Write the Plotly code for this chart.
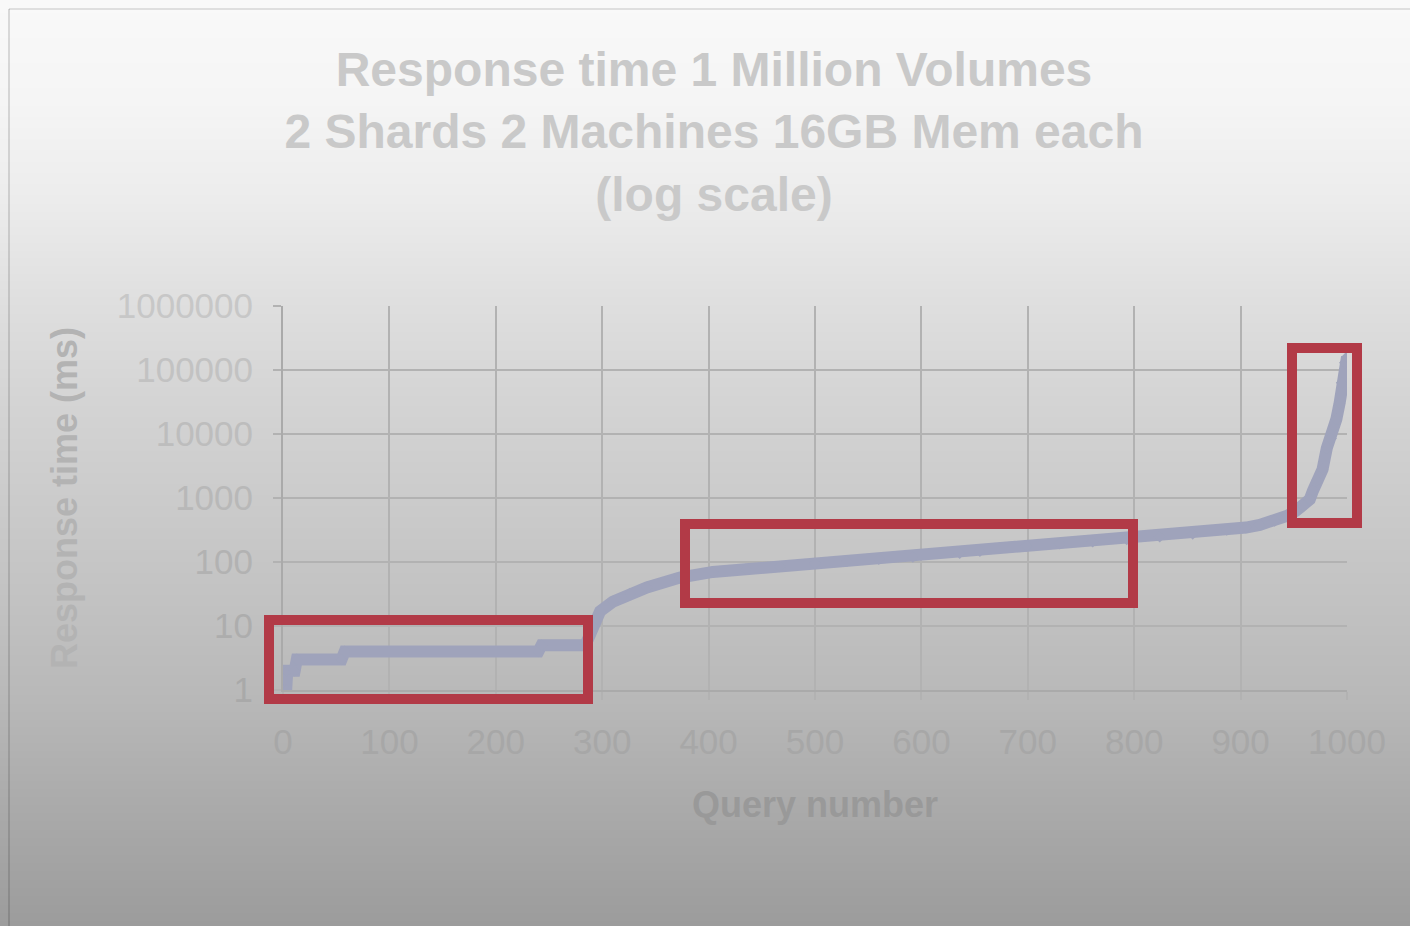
import base64
import struct
import zlib

import plotly.graph_objects as go

# ---- data: sorted response times of 1000 queries (ms) ----
query_number = [0, 3, 4, 11, 13, 55, 58, 240, 243, 284, 288, 291, 298, 310, 326,
                342, 373, 404, 435, 467, 500, 530, 560, 592, 636, 655, 699, 730,
                761, 793, 824, 855, 887, 905, 918, 932, 944, 952, 959, 965, 968,
                972, 977, 981, 985, 988, 990, 993, 995, 998, 1000]
response_ms = [1, 1, 2, 2, 3, 3, 4, 4, 5, 5, 7, 10, 17, 24, 32,
               40, 57, 70, 77, 85, 94, 103, 111, 120, 138, 148, 178, 194,
               208, 226, 248, 276, 316, 345, 380, 440, 530, 630, 740, 950, 1300,
               1900, 2800, 6000, 8500, 13000, 17000, 30000, 63000, 130000, 160000]

x_ticks = [0, 100, 200, 300, 400, 500, 600, 700, 800, 900, 1000]
y_ticks = [1, 10, 100, 1000, 10000, 100000, 1000000]
y_tick_labels = ["1", "10", "100", "1000", "10000", "100000", "1000000"]

# ---- page geometry (px) ----
PAGE_W, PAGE_H = 1410, 926
M_L, M_R, M_T, M_B = 283, 63, 306, 236
PLOT_W = PAGE_W - M_L - M_R
PLOT_H = PAGE_H - M_T - M_B


def paper_x(px):
    return (px - M_L) / PLOT_W


def paper_y(py):
    return (PAGE_H - M_B - py) / PLOT_H


# ---- vertical background fade, built as a tiny PNG ----
def gradient_png(stops, height):
    rows = []
    for r in range(height):
        for (y0, v0), (y1, v1) in zip(stops, stops[1:]):
            if y0 <= r <= y1:
                t = (r - y0) / (y1 - y0) if y1 > y0 else 0
                v = int(round(v0 + (v1 - v0) * t))
                break
        rows.append(b"\x00" + bytes([v, v, v]))
    raw = b"".join(rows)

    def chunk(tag, data):
        c = struct.pack(">I", len(data)) + tag + data
        return c + struct.pack(">I", zlib.crc32(tag + data) & 0xFFFFFFFF)

    png = b"\x89PNG\r\n\x1a\n"
    png += chunk(b"IHDR", struct.pack(">IIBBBBB", 1, height, 8, 2, 0, 0, 0))
    png += chunk(b"IDAT", zlib.compress(raw, 9))
    png += chunk(b"IEND", b"")
    return "data:image/png;base64," + base64.b64encode(png).decode()


bg_stops = [(0, 249), (100, 245), (200, 236), (300, 223), (400, 212),
            (500, 203), (600, 194), (700, 184), (800, 171), (925, 156)]
bg_src = gradient_png(bg_stops, PAGE_H)

FONT = "Liberation Sans, Arial, sans-serif"
CURVE = "#9fa3bb"
GRID = "#b2b2b2"

# per-label shade for y ticks (lighter at the top of the fade)
y_tick_colors = ["#a9a9a9", "#adadad", "#b2b2b2", "#b8b8b8", "#bdbdbd", "#c2c2c2", "#c7c7c7"]
y_tick_text = [f"<span style='color:{c}'>{t}</span>" for t, c in zip(y_tick_labels, y_tick_colors)]

fig = go.Figure()
fig.add_trace(go.Scatter(
    x=query_number,
    y=response_ms,
    mode="lines+markers",
    line=dict(color=CURVE, width=12),
    marker=dict(symbol="diamond", size=9, color=CURVE),
    showlegend=False,
    hoverinfo="x+y",
))

# highlight boxes (centre-line of the stroke, in page px)
boxes = [(269, 620, 588, 699), (685, 524, 1133, 603), (1292, 348, 1357, 523)]
shapes = []
for x0, y0, x1, y1 in boxes:
    shapes.append(dict(type="rect", xref="paper", yref="paper",
                       x0=paper_x(x0), x1=paper_x(x1), y0=paper_y(y1), y1=paper_y(y0),
                       line=dict(color="#b23a47", width=10), layer="above"))
# slide frame edges
shapes.append(dict(type="line", xref="paper", yref="paper",
                   x0=paper_x(9), x1=paper_x(9), y0=paper_y(9), y1=paper_y(PAGE_H),
                   line=dict(color="rgba(0,0,0,0.13)", width=2), layer="above"))
shapes.append(dict(type="line", xref="paper", yref="paper",
                   x0=paper_x(9), x1=paper_x(PAGE_W), y0=paper_y(9), y1=paper_y(9),
                   line=dict(color="rgba(0,0,0,0.10)", width=2), layer="above"))

fig.update_layout(
    width=PAGE_W,
    height=PAGE_H,
    margin=dict(l=M_L, r=M_R, t=M_T, b=M_B, pad=0),
    paper_bgcolor="#d4d4d4",
    plot_bgcolor="rgba(0,0,0,0)",
    font=dict(family=FONT),
    title=dict(
        text="<b>Response time 1 Million Volumes<br>2 Shards 2 Machines 16GB Mem each<br>(log scale)</b>",
        font=dict(family=FONT, size=48, color="#c9c9c9"),
        x=714 / PAGE_W, xref="container", xanchor="center",
        y=1 - 86 / PAGE_H, yref="container", yanchor="top",
    ),
    images=[dict(source=bg_src, xref="paper", yref="paper",
                 x=paper_x(0), y=paper_y(0), sizex=PAGE_W / PLOT_W, sizey=PAGE_H / PLOT_H,
                 xanchor="left", yanchor="top", sizing="stretch", layer="below")],
    shapes=shapes,
    xaxis=dict(
        range=[0, 1000],
        tickvals=x_ticks,
        ticktext=[str(v) for v in x_ticks],
        ticks="outside", ticklen=8, tickwidth=2, tickcolor=GRID,
        ticklabelstandoff=12,
        showgrid=True, gridcolor=GRID, gridwidth=2,
        showline=True, linecolor="#aaaaaa", linewidth=2,
        zeroline=False,
        tickfont=dict(family=FONT, size=35, color="#a7a7a7"),
        title=dict(text="<b>Query number</b>", standoff=32,
                   font=dict(family=FONT, size=36, color="#999999")),
    ),
    yaxis=dict(
        type="log",
        range=[0, 6],
        tickvals=y_ticks,
        ticktext=y_tick_text,
        ticks="outside", ticklen=8, tickwidth=2, tickcolor=GRID,
        ticklabelstandoff=13,
        showgrid=True, gridcolor=GRID, gridwidth=2,
        showline=True, linecolor="#aaaaaa", linewidth=2,
        zeroline=False,
        tickfont=dict(family=FONT, size=35, color="#b5b5b5"),
        title=dict(text="<b>Response time (ms)</b>", standoff=28,
                   font=dict(family=FONT, size=36, color="#b3b3b3")),
    ),
)

fig.write_html("out.html")
